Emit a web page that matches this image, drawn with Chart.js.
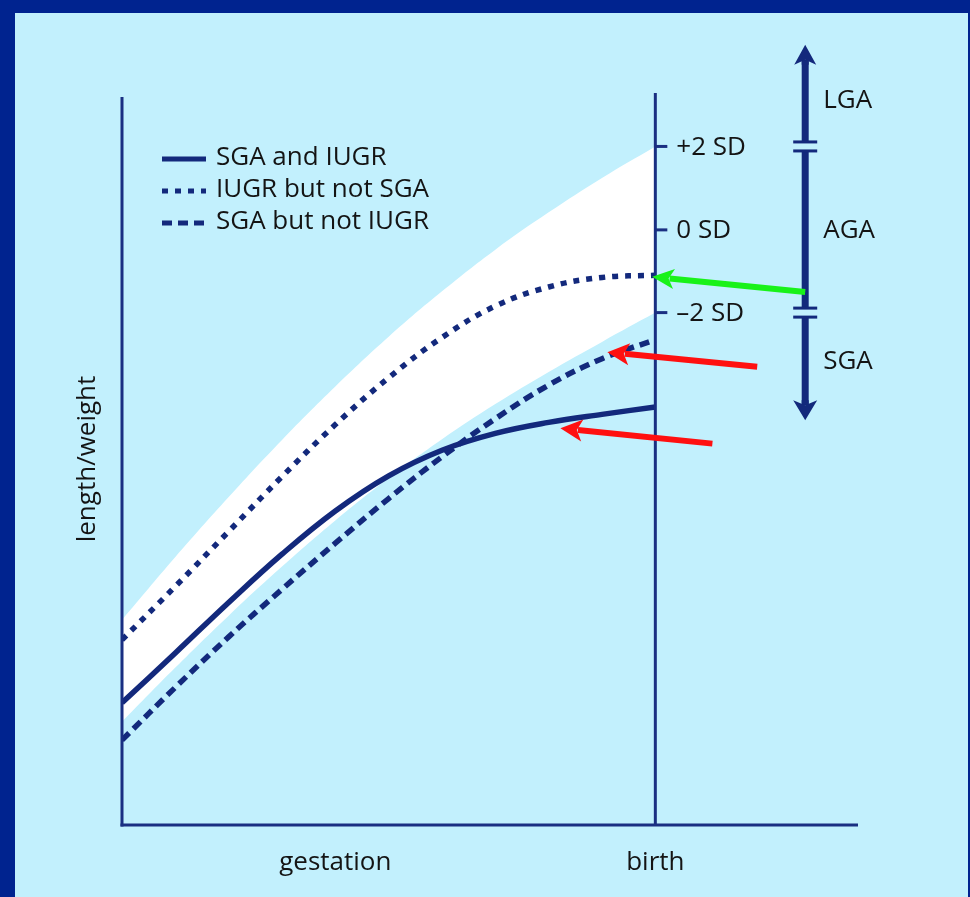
<!DOCTYPE html>
<html>
<head>
<meta charset="utf-8">
<title>SGA / IUGR growth curves</title>
<style>
  html, body { margin: 0; padding: 0; background: #00238f; }
  #wrap { width: 970px; height: 897px; }
</style>
<script src="https://cdn.jsdelivr.net/npm/chart.js@4.4.1/dist/chart.umd.min.js"></script>
</head>
<body>
<div id="wrap"><canvas id="growthChart" width="970" height="897"></canvas></div>
<script>
// gestation positions (birth = 100), length/weight on a 0-100 scale
const GESTATION = [0, 10, 20, 30, 40, 50, 60, 70, 80, 90, 100];
const SGA_AND_IUGR = [16.7, 23.5, 30.4, 37.0, 42.9, 47.7, 51.2, 53.5, 55.0, 56.1, 57.1];
const IUGR_NOT_SGA = [25.3, 32.6, 40.1, 47.6, 54.7, 61.1, 66.6, 70.9, 73.5, 74.8, 75.1];
const SGA_NOT_IUGR = [11.6, 18.8, 25.7, 32.2, 38.5, 44.6, 50.3, 55.5, 60.1, 63.7, 66.3];
// reference band (white area)
const PLUS_2SD = [28.0, 36.6, 44.8, 52.6, 59.9, 66.7, 72.9, 78.6, 83.7, 88.4, 92.7];
const MINUS_2SD = [14.1, 21.5, 28.6, 35.3, 41.6, 47.4, 52.7, 57.5, 61.9, 66.0, 70.0];

// birth-line ticks
const SD_VALUES = [92.7, 81.3, 70.0];
const SD_LABELS = ["+2 SD", "0 SD", "\u20132 SD"];

// classification bar on the right
const CLASS_X = 128.1;
const CLASS_LABELS = ["LGA", "AGA", "SGA"];
const CLASS_Y = [98.9, 81.2, 63.3];
const CLASS_TOP = 106.6;
const CLASS_BOTTOM = 55.3;

const X_LABELS = ["gestation", "birth"];
const X_LABEL_POS = [40, 100];
const Y_TITLE = "length/weight";

// annotation arrows: [tailX, tailY, tipX, tipY]
const GREEN_ARROWS = [[128.1, 72.8, 99.4, 74.9]];
const RED_ARROWS = [[119.1, 62.6, 91.0, 64.6], [110.7, 52.1, 82.2, 54.2]];

const NAVY = "#13297c";
const AXIS = "#1a2f82";
const TEXT = "#141414";
const FONT = '"Open Sans", "Noto Sans", sans-serif';

function pts(arr) {
  return GESTATION.map((x, i) => ({ x: x, y: arr[i] }));
}

function arrow(ctx, x1, y1, x2, y2, color, width, headLen, headW) {
  const ang = Math.atan2(y2 - y1, x2 - x1);
  const bx = x2 - Math.cos(ang) * headLen * 0.8;
  const by = y2 - Math.sin(ang) * headLen * 0.8;
  ctx.save();
  ctx.strokeStyle = color;
  ctx.fillStyle = color;
  ctx.lineWidth = width;
  ctx.setLineDash([]);
  ctx.beginPath();
  ctx.moveTo(x1, y1);
  ctx.lineTo(bx, by);
  ctx.stroke();
  // head with a slight notch
  const px = -Math.sin(ang), py = Math.cos(ang);
  const hx = x2 - Math.cos(ang) * headLen;
  const hy = y2 - Math.sin(ang) * headLen;
  ctx.beginPath();
  ctx.moveTo(x2, y2);
  ctx.lineTo(hx + px * headW / 2, hy + py * headW / 2);
  ctx.lineTo(x2 - Math.cos(ang) * headLen * 0.75, y2 - Math.sin(ang) * headLen * 0.75);
  ctx.lineTo(hx - px * headW / 2, hy - py * headW / 2);
  ctx.closePath();
  ctx.fill();
  ctx.restore();
}

// background: dark frame + light blue panel
const framePlugin = {
  id: "frame",
  beforeDraw(chart) {
    const ctx = chart.ctx;
    ctx.save();
    ctx.fillStyle = "#00238f";
    ctx.fillRect(0, 0, chart.width, chart.height);
    ctx.fillStyle = "#c2f0fd";
    ctx.fillRect(15, 13, chart.width - 17, chart.height - 13);
    ctx.restore();
  }
};

// axes, birth line, SD ticks, labels, legend, classification bar, arrows
const decorPlugin = {
  id: "decor",
  afterDatasetsDraw(chart) {
    const ctx = chart.ctx;
    const xs = chart.scales.x, ys = chart.scales.y;
    const X = v => xs.getPixelForValue(v);
    const Y = v => ys.getPixelForValue(v);
    const area = chart.chartArea;

    ctx.save();
    ctx.lineCap = "butt";
    ctx.strokeStyle = AXIS;
    ctx.lineWidth = 3;
    // y axis
    ctx.beginPath();
    ctx.moveTo(X(0), Y(99.45));
    ctx.lineTo(X(0), area.bottom + 1.5);
    ctx.stroke();
    // x axis
    ctx.beginPath();
    ctx.moveTo(X(0) - 1.5, area.bottom);
    ctx.lineTo(area.right, area.bottom);
    ctx.stroke();
    // birth line
    ctx.beginPath();
    ctx.moveTo(X(100), area.top);
    ctx.lineTo(X(100), area.bottom);
    ctx.stroke();
    // SD ticks + labels
    ctx.font = "26px " + FONT;
    ctx.fillStyle = TEXT;
    ctx.textBaseline = "middle";
    ctx.textAlign = "left";
    SD_VALUES.forEach((v, i) => {
      ctx.beginPath();
      ctx.moveTo(X(100), Y(v));
      ctx.lineTo(X(100) + 12, Y(v));
      ctx.stroke();
      ctx.fillText(SD_LABELS[i], X(100) + 21, Y(v) + 1);
    });

    // x labels
    ctx.textAlign = "center";
    X_LABELS.forEach((t, i) => {
      ctx.fillText(t, X(X_LABEL_POS[i]), area.bottom + 38);
    });
    // y title
    ctx.save();
    ctx.translate(X(0) - 34, Y(50));
    ctx.rotate(-Math.PI / 2);
    ctx.fillText(Y_TITLE, 0, 0);
    ctx.restore();

    // legend
    const lx = area.left + 40, ly = area.top + 66;
    chart.data.datasets.slice(0, 3).forEach((ds, i) => {
      const y = ly + i * 32;
      ctx.strokeStyle = ds.borderColor;
      ctx.lineWidth = 5;
      ctx.setLineDash(ds.borderDash || []);
      ctx.beginPath();
      ctx.moveTo(lx, y);
      ctx.lineTo(lx + 44, y);
      ctx.stroke();
      ctx.setLineDash([]);
      ctx.textAlign = "left";
      ctx.fillStyle = TEXT;
      ctx.fillText(ds.label, lx + 54, y - 1);
    });

    // classification bar with breaks at +/-2 SD
    const cx = X(CLASS_X);
    const breaks = [SD_VALUES[0], SD_VALUES[2]];
    ctx.strokeStyle = NAVY;
    ctx.lineWidth = 7;
    const segs = [
      [Y(CLASS_TOP) + 15, Y(breaks[0]) - 4.5],
      [Y(breaks[0]) + 4.5, Y(breaks[1]) - 4.5],
      [Y(breaks[1]) + 4.5, Y(CLASS_BOTTOM) - 15]
    ];
    segs.forEach(s => {
      ctx.beginPath();
      ctx.moveTo(cx, s[0]);
      ctx.lineTo(cx, s[1]);
      ctx.stroke();
    });
    ctx.lineWidth = 3;
    breaks.forEach(b => {
      [-4.5, 4.5].forEach(d => {
        ctx.beginPath();
        ctx.moveTo(cx - 12, Y(b) + d);
        ctx.lineTo(cx + 12, Y(b) + d);
        ctx.stroke();
      });
    });
    arrow(ctx, cx, Y(CLASS_TOP) + 20, cx, Y(CLASS_TOP), NAVY, 7, 20, 22);
    arrow(ctx, cx, Y(CLASS_BOTTOM) - 20, cx, Y(CLASS_BOTTOM), NAVY, 7, 20, 24);
    ctx.fillStyle = TEXT;
    ctx.textAlign = "left";
    CLASS_LABELS.forEach((t, i) => ctx.fillText(t, cx + 18, Y(CLASS_Y[i])));

    // annotation arrows
    GREEN_ARROWS.forEach(a => arrow(ctx, X(a[0]), Y(a[1]), X(a[2]), Y(a[3]), "#19f219", 6, 22, 20));
    RED_ARROWS.forEach(a => arrow(ctx, X(a[0]), Y(a[1]), X(a[2]), Y(a[3]), "#ff1010", 6, 22, 22));
    ctx.restore();
  }
};

const ctx = document.getElementById("growthChart").getContext("2d");
const chart = new Chart(ctx, {
  type: "line",
  data: {
    datasets: [
      { label: "SGA and IUGR", data: pts(SGA_AND_IUGR), borderColor: NAVY, borderWidth: 5.5, order: 1 },
      { label: "IUGR but not SGA", data: pts(IUGR_NOT_SGA), borderColor: NAVY, borderWidth: 5.5, borderDash: [6, 7], order: 2 },
      { label: "SGA but not IUGR", data: pts(SGA_NOT_IUGR), borderColor: NAVY, borderWidth: 5.5, borderDash: [10, 6], order: 3 },
      { label: "+2 SD", data: pts(PLUS_2SD), borderWidth: 0, borderColor: "rgba(0,0,0,0)", backgroundColor: "#ffffff", fill: "+1", order: 10 },
      { label: "-2 SD", data: pts(MINUS_2SD), borderWidth: 0, borderColor: "rgba(0,0,0,0)", fill: false, order: 11 }
    ]
  },
  options: {
    responsive: false,
    animation: false,
    devicePixelRatio: 1,
    layout: { padding: { left: 122, right: 112, top: 93, bottom: 72 } },
    scales: {
      x: { type: "linear", min: 0, max: 138, display: false },
      y: { min: 0, max: 100, display: false }
    },
    elements: {
      point: { radius: 0 },
      line: { tension: 0.4, borderCapStyle: "butt" }
    },
    plugins: {
      legend: { display: false },
      tooltip: { enabled: false }
    }
  },
  plugins: [framePlugin, decorPlugin]
});
</script>
</body>
</html>
